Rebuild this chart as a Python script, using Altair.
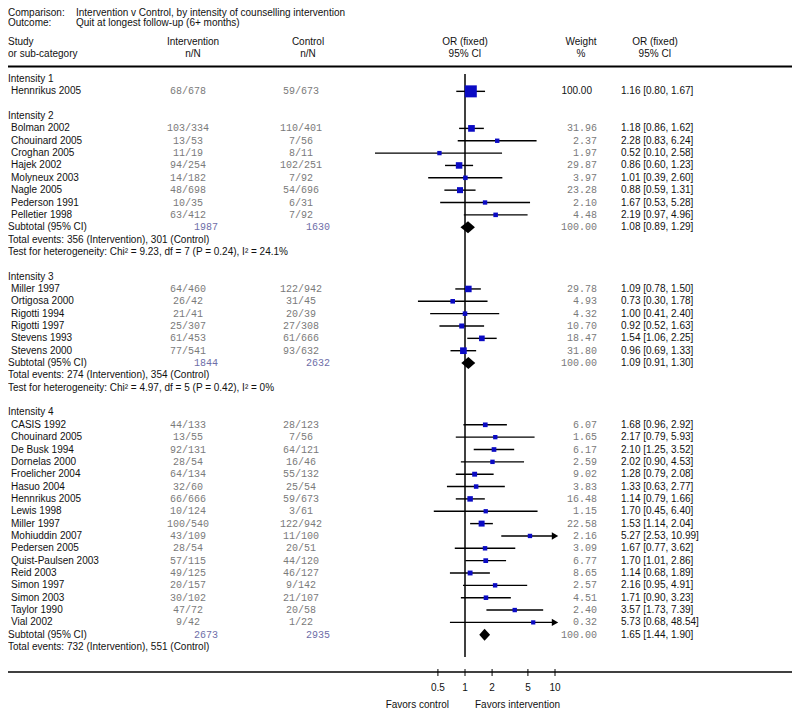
import altair as alt
import pandas as pd

SANS = "Liberation Sans, Arial, Helvetica, sans-serif"
MONO = "Liberation Mono, Courier New, monospace"

# ---------------- data ----------------
groups = ["Intensity 1", "Intensity 2", "Intensity 3", "Intensity 4"]

g1_study = ["Hennrikus 2005"]
g1_int = ["68/678"]
g1_ctl = ["59/673"]
g1_weight = [100.00]
g1_or = [1.16]
g1_lo = [0.80]
g1_hi = [1.67]

g2_study = ["Bolman 2002", "Chouinard 2005", "Croghan 2005", "Hajek 2002",
            "Molyneux 2003", "Nagle 2005", "Pederson 1991", "Pelletier 1998"]
g2_int = ["103/334", "13/53", "11/19", "94/254", "14/182", "48/698", "10/35", "63/412"]
g2_ctl = ["110/401", "7/56", "8/11", "102/251", "7/92", "54/696", "6/31", "7/92"]
g2_weight = [31.96, 2.37, 1.97, 29.87, 3.97, 23.28, 2.10, 4.48]
g2_or = [1.18, 2.28, 0.52, 0.86, 1.01, 0.88, 1.67, 2.19]
g2_lo = [0.86, 0.83, 0.10, 0.60, 0.39, 0.59, 0.53, 0.97]
g2_hi = [1.62, 6.24, 2.58, 1.23, 2.60, 1.31, 5.28, 4.96]

g3_study = ["Miller 1997", "Ortigosa 2000", "Rigotti 1994", "Rigotti 1997",
            "Stevens 1993", "Stevens 2000"]
g3_int = ["64/460", "26/42", "21/41", "25/307", "61/453", "77/541"]
g3_ctl = ["122/942", "31/45", "20/39", "27/308", "61/666", "93/632"]
g3_weight = [29.78, 4.93, 4.32, 10.70, 18.47, 31.80]
g3_or = [1.09, 0.73, 1.00, 0.92, 1.54, 0.96]
g3_lo = [0.78, 0.30, 0.41, 0.52, 1.06, 0.69]
g3_hi = [1.50, 1.78, 2.40, 1.63, 2.25, 1.33]

g4_study = ["CASIS 1992", "Chouinard 2005", "De Busk 1994", "Dornelas 2000",
            "Froelicher 2004", "Hasuo 2004", "Hennrikus 2005", "Lewis 1998",
            "Miller 1997", "Mohiuddin 2007", "Pedersen 2005", "Quist-Paulsen 2003",
            "Reid 2003", "Simon 1997", "Simon 2003", "Taylor 1990", "Vial 2002"]
g4_int = ["44/133", "13/55", "92/131", "28/54", "64/134", "32/60", "66/666", "10/124",
          "100/540", "43/109", "28/54", "57/115", "49/125", "20/157", "30/102",
          "47/72", "9/42"]
g4_ctl = ["28/123", "7/56", "64/121", "16/46", "55/132", "25/54", "59/673", "3/61",
          "122/942", "11/100", "20/51", "44/120", "46/127", "9/142", "21/107",
          "20/58", "1/22"]
g4_weight = [6.07, 1.65, 6.17, 2.59, 9.02, 3.83, 16.48, 1.15, 22.58, 2.16, 3.09,
             6.77, 8.65, 2.57, 4.51, 2.40, 0.32]
g4_or = [1.68, 2.17, 2.10, 2.02, 1.28, 1.33, 1.14, 1.70, 1.53, 5.27, 1.67, 1.70,
         1.14, 2.16, 1.71, 3.57, 5.73]
g4_lo = [0.96, 0.79, 1.25, 0.90, 0.79, 0.63, 0.79, 0.45, 1.14, 2.53, 0.77, 1.01,
         0.68, 0.95, 0.90, 1.73, 0.68]
g4_hi = [2.92, 5.93, 3.52, 4.53, 2.08, 2.77, 1.66, 6.40, 2.04, 10.99, 3.62, 2.86,
         1.89, 4.91, 3.23, 7.39, 48.54]

sub_groups = ["Intensity 2", "Intensity 3", "Intensity 4"]
sub_int = [1987, 1844, 2673]
sub_ctl = [1630, 2632, 2935]
sub_or = [1.08, 1.09, 1.65]
sub_lo = [0.89, 0.91, 1.44]
sub_hi = [1.29, 1.30, 1.90]
events_text = ["Total events: 356 (Intervention), 301 (Control)",
               "Total events: 274 (Intervention), 354 (Control)",
               "Total events: 732 (Intervention), 551 (Control)"]
het_text = ["Test for heterogeneity: Chi\u00b2 = 9.23, df = 7 (P = 0.24), I\u00b2 = 24.1%",
            "Test for heterogeneity: Chi\u00b2 = 4.97, df = 5 (P = 0.42), I\u00b2 = 0%",
            ""]

tick_vals = [0.5, 1, 2, 5, 10]
tick_labels = ["0.5", "1", "2", "5", "10"]

# ---------------- table building ----------------
group_data = [
    (g1_study, g1_int, g1_ctl, g1_weight, g1_or, g1_lo, g1_hi),
    (g2_study, g2_int, g2_ctl, g2_weight, g2_or, g2_lo, g2_hi),
    (g3_study, g3_int, g3_ctl, g3_weight, g3_or, g3_lo, g3_hi),
    (g4_study, g4_int, g4_ctl, g4_weight, g4_or, g4_lo, g4_hi),
]

XMIN, XMAX = 0.1, 10.0
hdr_rows, st_rows, sub_rows, note_rows, dia_rows = [], [], [], [], []
r = 0
for gi, name in enumerate(groups):
    hdr_rows.append({"row": r, "text": name})
    r += 1
    st, ni, nc, w, o, lo, hi = group_data[gi]
    for k in range(len(st)):
        st_rows.append({
            "row": r, "group": gi, "study": st[k], "nint": ni[k], "nctl": nc[k],
            "w": w[k], "wtxt": f"{w[k]:.2f}", "est": o[k],
            "lo": max(lo[k], XMIN), "hi": min(hi[k], XMAX),
            "clipped_hi": hi[k] > XMAX,
            "ortxt": f"{o[k]:.2f} [{lo[k]:.2f}, {hi[k]:.2f}]",
            "msize": (4.2 + 0.078 * w[k]) ** 2,
        })
        r += 1
    if name in sub_groups:
        j = sub_groups.index(name)
        sub_rows.append({"row": r, "label": "Subtotal (95% CI)",
                         "tint": str(sub_int[j]), "tctl": str(sub_ctl[j]),
                         "wtxt": "100.00",
                         "ortxt": f"{sub_or[j]:.2f} [{sub_lo[j]:.2f}, {sub_hi[j]:.2f}]"})
        h = 0.48
        dia_rows += [
            {"sid": j, "x": sub_lo[j], "y": r, "y2": r},
            {"sid": j, "x": sub_or[j], "y": r - h, "y2": r + h},
            {"sid": j, "x": sub_hi[j], "y": r, "y2": r},
        ]
        r += 1
        note_rows.append({"row": r, "text": events_text[j]})
        r += 1
        if het_text[j]:
            note_rows.append({"row": r, "text": het_text[j]})
            r += 1
    r += 1
LAST = r - 2

hdr_df = pd.DataFrame(hdr_rows)
st_df = pd.DataFrame(st_rows)
sub_df = pd.DataFrame(sub_rows)
note_df = pd.DataFrame(note_rows)
dia_df = pd.DataFrame(dia_rows)
arrow_df = st_df[st_df["clipped_hi"]]
tick_df = pd.DataFrame({"v": tick_vals, "lab": tick_labels})

# ---------------- scales ----------------
yscale = alt.Scale(domain=[0, LAST], range=[71, 71 + 12.35 * LAST], nice=False, zero=False)
xscale = alt.Scale(type="log", domain=[XMIN, XMAX], range=[367, 547], nice=False)


def Yr(field="row"):
    return alt.Y(f"{field}:Q", scale=yscale, axis=None)


def Xf(field):
    return alt.X(f"{field}:Q", scale=xscale, axis=None)


def col_text(df, field, x, align="left", font=SANS, color="#111111", size=10):
    return alt.Chart(df).mark_text(
        align=align, baseline="middle", font=font, fontSize=size, color=color
    ).encode(x=alt.value(x), y=Yr(), text=f"{field}:N")


def fixed_text(s, x, y, align="left", color="#111111", font=SANS, size=10):
    return alt.Chart(pd.DataFrame({"t": [s]})).mark_text(
        align=align, baseline="middle", font=font, fontSize=size, color=color
    ).encode(x=alt.value(x), y=alt.value(y), text="t:N")


def hline(y, x1, x2, width):
    return alt.Chart(pd.DataFrame({"a": [0]})).mark_rule(
        color="black", strokeWidth=width
    ).encode(x=alt.value(x1), x2=alt.value(x2), y=alt.value(y))


GREY = "#7a7a7a"
BLUEGREY = "#6e6ea8"
BOX = "#0b0bc4"

layers = []
# header block
layers += [
    fixed_text("Comparison:", 0, 5),
    fixed_text("Intervention v Control, by intensity of counselling intervention", 68, 5),
    fixed_text("Outcome:", 0, 15),
    fixed_text("Quit at longest follow-up (6+ months)", 68, 15),
    fixed_text("Study", 0, 34),
    fixed_text("or sub-category", 0, 46),
    fixed_text("Intervention", 185, 34, "center"),
    fixed_text("n/N", 185, 46, "center"),
    fixed_text("Control", 300, 34, "center"),
    fixed_text("n/N", 300, 46, "center"),
    fixed_text("OR (fixed)", 457, 34, "center"),
    fixed_text("95% CI", 457, 46, "center"),
    fixed_text("Weight", 573, 34, "center"),
    fixed_text("%", 573, 46, "center"),
    fixed_text("OR (fixed)", 647, 34, "center"),
    fixed_text("95% CI", 647, 46, "center"),
    hline(58.5, 0, 784, 2),
]

# left text columns
layers += [
    col_text(hdr_df, "text", 0),
    col_text(st_df, "study", 3),
    col_text(sub_df, "label", 0),
    col_text(note_df, "text", 0),
    col_text(st_df, "nint", 180, "center", MONO, GREY),
    col_text(st_df, "nctl", 293, "center", MONO, GREY),
    col_text(sub_df, "tint", 198, "center", MONO, BLUEGREY),
    col_text(sub_df, "tctl", 310, "center", MONO, BLUEGREY),
    col_text(st_df[st_df["group"] > 0], "wtxt", 589, "right", MONO, GREY),
    col_text(st_df[st_df["group"] == 0], "wtxt", 584, "right"),
    col_text(sub_df, "wtxt", 589, "right", MONO, GREY),
    col_text(st_df, "ortxt", 613),
    col_text(sub_df, "ortxt", 613),
]

# forest plot
one_df = pd.DataFrame({"v": [1]})
layers += [
    alt.Chart(one_df).mark_rule(color="black", strokeWidth=1.5).encode(
        x=Xf("v"), y=alt.value(66), y2=alt.value(649)),
    alt.Chart(st_df).mark_rule(color="black", strokeWidth=1.4).encode(
        x=Xf("lo"), x2="hi:Q", y=Yr()),
    alt.Chart(st_df).mark_square(color=BOX, opacity=1, filled=True).encode(
        x=Xf("est"), y=Yr(), size=alt.Size("msize:Q", scale=None, legend=None)),
    alt.Chart(arrow_df).mark_point(shape="triangle-right", filled=True, color="black",
                                   opacity=1, size=55).encode(
        x=Xf("hi"), y=Yr()),
    alt.Chart(dia_df).mark_area(color="black", opacity=1).encode(
        x=Xf("x"), y=Yr("y"), y2="y2:Q", detail="sid:N"),
]

# bottom axis
layers += [
    hline(664, 0, 784, 1.5),
    alt.Chart(tick_df).mark_rule(color="black", strokeWidth=1).encode(
        x=Xf("v"), y=alt.value(661), y2=alt.value(668)),
    alt.Chart(tick_df).mark_text(baseline="middle", font=SANS, fontSize=10,
                                 color="#111111").encode(
        x=Xf("v"), y=alt.value(680), text="lab:N"),
    fixed_text("Favors control", 441, 697, "right"),
    fixed_text("Favors intervention", 467, 697),
]

chart = alt.layer(*layers).properties(
    width=784, height=703, padding=0, autosize="none", background="white"
).configure_view(stroke=None)

chart.save("out.html", embed_options={"renderer": "svg", "actions": False})
